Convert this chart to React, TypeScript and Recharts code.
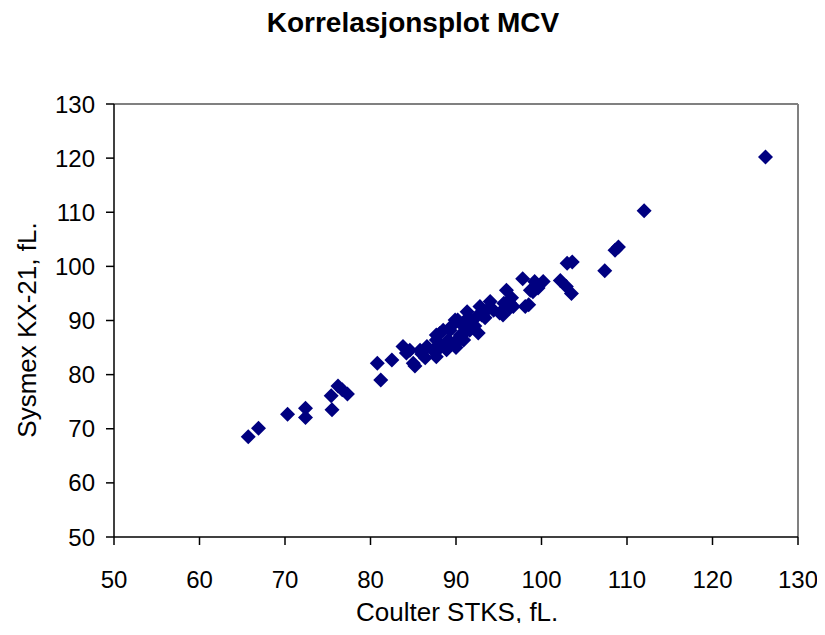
import React from 'react';
import { ScatterChart, Scatter, XAxis, YAxis, ReferenceLine } from 'recharts';

const title = 'Korrelasjonsplot MCV';
const xLabel = 'Coulter STKS, fL.';
const yLabel = 'Sysmex KX-21, fL.';

const axisTicks = [50, 60, 70, 80, 90, 100, 110, 120, 130];

// Coulter STKS (x) / Sysmex KX-21 (y)
const coulter = [
  65.7, 66.9, 70.3, 72.4, 72.4, 75.5, 75.4, 76.2, 76.7, 77.3,
  80.8, 81.2, 82.5, 83.8, 84.2, 84.6, 85.0, 85.2, 85.8, 86.4,
  86.6, 87.3, 87.7, 87.7, 87.7, 88.1, 88.1, 88.5, 88.9, 89.1,
  89.3, 89.5, 89.9, 89.9, 90.1, 90.2, 90.5, 90.5, 90.9, 91.3,
  91.3, 91.4, 91.6, 91.8, 92.2, 92.4, 92.6, 92.8, 93.0, 93.4,
  93.6, 94.0, 94.4, 95.1, 95.5, 95.6, 95.9, 96.3, 96.3, 96.7,
  96.5, 97.8, 98.1, 98.5, 98.7, 99.2, 99.0, 99.6, 100.2, 102.2,
  102.9, 103.5, 103.0, 103.6, 107.4, 108.6, 109.0, 112.0, 126.2,
  86.0, 88.9, 90.0,
];
const sysmex = [
  68.5, 70.1, 72.7, 73.8, 72.1, 73.5, 76.1, 77.9, 77.2, 76.4,
  82.1, 79.0, 82.7, 85.2, 84.0, 84.5, 82.1, 81.6, 84.5, 83.1,
  85.2, 84.5, 83.3, 86.4, 87.3, 87.6, 84.9, 88.2, 85.8, 86.4,
  88.2, 89.0, 85.5, 90.1, 86.4, 90.1, 89.5, 87.3, 86.4, 88.2,
  91.6, 90.5, 88.2, 90.1, 89.0, 90.7, 87.7, 92.6, 91.0, 90.5,
  91.9, 93.5, 91.9, 91.4, 91.0, 93.2, 95.6, 93.2, 92.3, 92.6,
  94.2, 97.7, 92.6, 92.9, 95.6, 97.2, 95.3, 96.0, 97.2, 97.4,
  96.3, 95.0, 100.6, 100.8, 99.2, 103.0, 103.6, 110.3, 120.2,
  83.8, 84.6, 85.0,
];

const points = coulter.map((x, i) => ({ x, y: sysmex[i] }));

const font = '"Liberation Sans", Arial, sans-serif';

const Diamond = (props: any) => {
  const { cx, cy } = props;
  const r = 7.5;
  return (
    <polygon
      points={`${cx},${cy - r} ${cx + r},${cy} ${cx},${cy + r} ${cx - r},${cy}`}
      fill="#000080"
    />
  );
};

export default function App() {
  return (
    <div style={{ position: 'relative', width: 809, height: 615, fontFamily: font, background: '#fff' }}>
      <ScatterChart
        width={809}
        height={615}
        margin={{ top: 96, right: 19, bottom: 26, left: 46 }}
        style={{ position: 'absolute', left: 0, top: 0 }}
      >
        <XAxis
          type="number"
          dataKey="x"
          domain={[50, 130]}
          ticks={axisTicks}
          allowDataOverflow
          height={60}
          stroke="#000"
          strokeWidth={1.5}
          tickSize={8}
          tickMargin={26}
          tick={{ fill: '#000', fontSize: 24, fontFamily: font }}
        />
        <YAxis
          type="number"
          dataKey="y"
          domain={[50, 130]}
          ticks={axisTicks}
          allowDataOverflow
          width={60}
          stroke="#000"
          strokeWidth={1.5}
          tickSize={8}
          tickMargin={11}
          tick={{ fill: '#000', fontSize: 24, fontFamily: font }}
        />
        <ReferenceLine y={130} stroke="#808080" strokeWidth={2} />
        <ReferenceLine x={130} stroke="#808080" strokeWidth={2} />
        <Scatter data={points} shape={<Diamond />} isAnimationActive={false} />
      </ScatterChart>
      <div
        style={{
          position: 'absolute', left: 0, width: 810, top: 0, textAlign: 'center',
          fontSize: 28, fontWeight: 'bold', lineHeight: '30px',
        }}
      >
        {title}
      </div>
      <div
        style={{
          position: 'absolute', left: 348, width: 200, top: 589, textAlign: 'center',
          fontSize: 26, lineHeight: '30px', whiteSpace: 'nowrap',
        }}
      >
        {xLabel}
      </div>
      <div
        style={{
          position: 'absolute', left: 19 - 150, width: 300, top: 322 - 15, textAlign: 'center',
          fontSize: 26, lineHeight: '30px', transform: 'rotate(-90deg)', whiteSpace: 'nowrap',
        }}
      >
        {yLabel}
      </div>
    </div>
  );
}
